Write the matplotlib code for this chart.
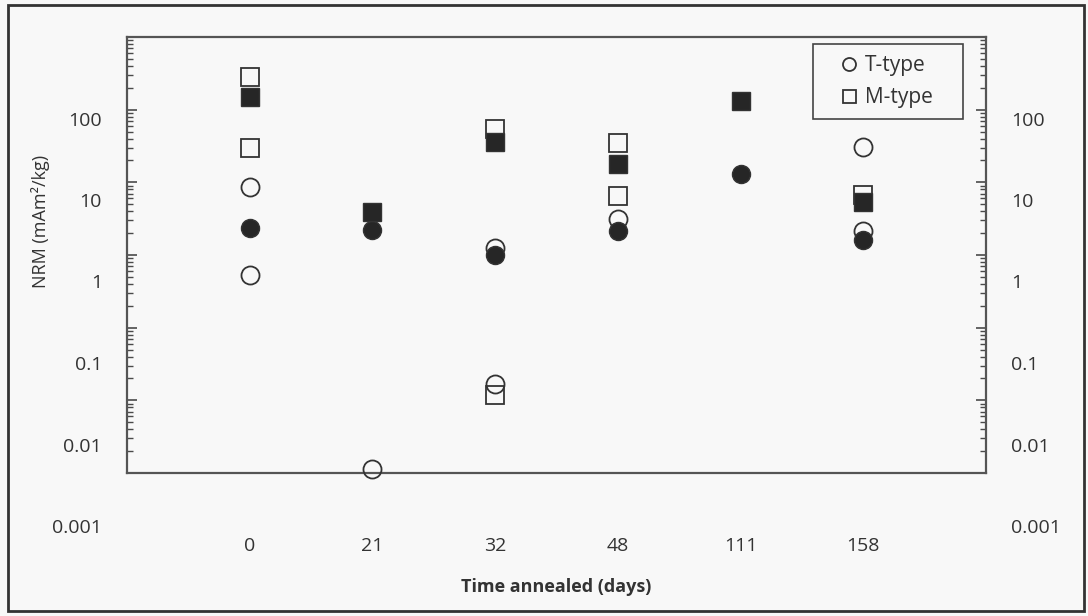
# NRM vs time annealed, log scale
import matplotlib
matplotlib.use("Agg")
import matplotlib.pyplot as plt
from matplotlib.patches import Rectangle
from matplotlib.ticker import LogLocator, NullFormatter

plt.rcParams['font.family'] = ['Open Sans', 'DejaVu Sans']

days = ["0", "21", "32", "48", "111", "158"]

# T-type (circles): open and filled markers
t_open_x = ["0", "0", "21", "32", "32", "48", "158", "158"]
t_open_y = [14.3, 1.2, 0.005, 2.6, 0.055, 5.8, 45, 4.2]
t_fill_x = ["0", "21", "32", "48", "111", "158"]
t_fill_y = [4.5, 4.3, 2.1, 4.2, 20.8, 3.2]

# M-type (squares): open and filled markers
m_open_x = ["0", "0", "32", "32", "48", "48", "158"]
m_open_y = [325, 43, 75, 0.040, 50, 11.3, 11.5]
m_fill_x = ["0", "21", "32", "48", "111", "158"]
m_fill_y = [181, 7.2, 51, 27.5, 164, 9.4]

ytick_vals = [0.001, 0.01, 0.1, 1, 10, 100]
ytick_labels = ["0.001", "0.01", "0.1", "1", "10", "100"]

W, H = 1088, 616
txt = '#333333'
edge = '#333333'

fig = plt.figure(figsize=(W / 100, H / 100), dpi=100)
fig.patch.set_facecolor('#f8f8f8')

left = 127 / W
width = (986 - 127) / W

# frame with its own tick marks
axf = fig.add_axes([left, (H - 473) / H, width, (473 - 37) / H])
axf.set_facecolor('none')
axf.set_yscale('log')
axf.set_ylim(0.001, 1000)
axf.yaxis.set_major_locator(LogLocator(base=10, numticks=20))
axf.yaxis.set_minor_locator(LogLocator(base=10, subs=[2, 3, 4, 5, 6, 7, 8, 9], numticks=100))
axf.yaxis.set_minor_formatter(NullFormatter())
axf.set_xticks([])
axf.tick_params(axis='y', which='both', direction='in', left=True, right=True,
                labelleft=False, labelright=False, color='#4a4a4a')
axf.tick_params(axis='y', which='major', length=7, width=1.2)
axf.tick_params(axis='y', which='minor', length=4.5, width=1.0)
for s in axf.spines.values():
    s.set_color('#555555')
    s.set_linewidth(1.6)

# data axes
ax = fig.add_axes([left, (H - 526) / H, width, (526 - 37) / H])
ax.patch.set_visible(False)
for s in ax.spines.values():
    s.set_visible(False)
ax.set_yscale('log')
ax.set_ylim(0.001, 1000)
ax.set_xlim(0, len(days) + 1)

pos = {d: i + 1 for i, d in enumerate(days)}

ms = 13
ax.plot([pos[d] for d in t_open_x], t_open_y, 'o', ms=ms, mfc='none', mec=edge, mew=1.3,
        ls='none', label='T-type')
ax.plot([pos[d] for d in m_open_x], m_open_y, 's', ms=ms, mfc='none', mec=edge, mew=1.3,
        ls='none', label='M-type')
ax.plot([pos[d] for d in t_fill_x], t_fill_y, 'o', ms=ms, mfc='#262626', mec=edge, mew=1.0,
        ls='none')
ax.plot([pos[d] for d in m_fill_x], m_fill_y, 's', ms=ms, mfc='#262626', mec=edge, mew=1.0,
        ls='none')

ax.set_xticks(range(1, len(days) + 1))
ax.set_xticklabels(days)
ax.set_yticks(ytick_vals)
ax.set_yticklabels(ytick_labels)
ax.minorticks_off()
ax.tick_params(axis='x', length=0, pad=8, labelsize=14, labelcolor=txt)
ax.tick_params(axis='y', which='both', length=0, pad=18, labelsize=14, labelcolor=txt,
               left=True, right=True, labelleft=True, labelright=True)

fig.text(40 / W, 1 - 221 / H, 'NRM (mAm²/kg)', rotation=90, ha='center', va='center',
         fontsize=13, color=txt)
fig.text(556 / W, 1 - 587 / H, 'Time annealed (days)', ha='center', va='center',
         fontsize=13, fontweight='bold', color=txt)

leg = ax.legend(loc='upper left', bbox_to_anchor=(813 / W, 1 - 116 / H, 150 / W, 72 / H),
                bbox_transform=fig.transFigure, mode='expand', borderaxespad=0,
                fontsize=15, markerscale=0.72, handlelength=2.37, handletextpad=-0.42,
                borderpad=0.55, labelspacing=0.5, fancybox=False, framealpha=1,
                facecolor='#f8f8f8', edgecolor='#444444', labelcolor=txt)
leg.get_frame().set_linewidth(1.2)

# outer border of the picture
fig.patches.append(Rectangle((8 / W, 5 / H), (1084 - 8) / W, (611 - 5) / H,
                             transform=fig.transFigure, fill=False,
                             edgecolor='#333333', linewidth=2))

fig.savefig('out.png', dpi=100, facecolor=fig.get_facecolor())
